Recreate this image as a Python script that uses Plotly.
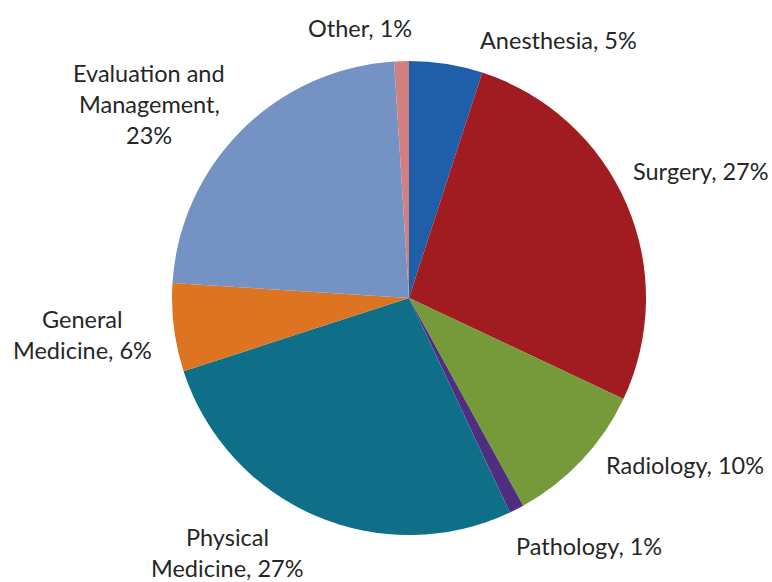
import plotly.graph_objects as go

categories = ["Anesthesia", "Surgery", "Radiology", "Pathology", "Physical Medicine",
              "General Medicine", "Evaluation and Management", "Other"]
values = [5, 27, 10, 1, 27, 6, 23, 1]
colors = ["#1f5ea8", "#a11c21", "#76993a", "#4f2d7f", "#0f6f88",
          "#dc7422", "#7592c5", "#d17f7f"]

# label text (line-broken like the original) and label anchor positions (pixels, centre of block)
label_lines = [
    ["Anesthesia, 5%"],
    ["Surgery, 27%"],
    ["Radiology, 10%"],
    ["Pathology, 1%"],
    ["Physical", "Medicine, 27%"],
    ["General", "Medicine, 6%"],
    ["Evaluation and", "Management,", "23%"],
    ["Other, 1%"],
]
label_px = [(558, 40), (701, 171), (685, 465), (589, 546), (227, 552),
            (82, 334), (149, 104), (360, 28)]
LINE_H = 31

W, H = 772, 582
cx, cy, r = 409, 298, 237

fig = go.Figure(go.Pie(
    labels=categories,
    values=values,
    sort=False,
    direction="clockwise",
    rotation=0,
    marker=dict(colors=colors, line=dict(width=0)),
    textinfo="none",
    hoverinfo="label+percent",
    showlegend=False,
    domain=dict(x=[(cx - r) / W, (cx + r) / W], y=[1 - (cy + r) / H, 1 - (cy - r) / H]),
))

for lines, (x, y) in zip(label_lines, label_px):
    n = len(lines)
    for i, line in enumerate(lines):
        ly = y + (i - (n - 1) / 2) * LINE_H
        fig.add_annotation(
            x=x / W, y=1 - ly / H, xref="paper", yref="paper",
            text=line, showarrow=False,
            xanchor="center", yanchor="middle", align="center",
            font=dict(family="Lato, 'Open Sans', sans-serif", size=23.5, color="#262626"),
        )

fig.update_layout(
    width=W, height=H,
    margin=dict(l=0, r=0, t=0, b=0),
    paper_bgcolor="white", plot_bgcolor="white",
)

fig.write_html("out.html", config={"displayModeBar": False},
               post_script="document.body.style.margin='0';")
